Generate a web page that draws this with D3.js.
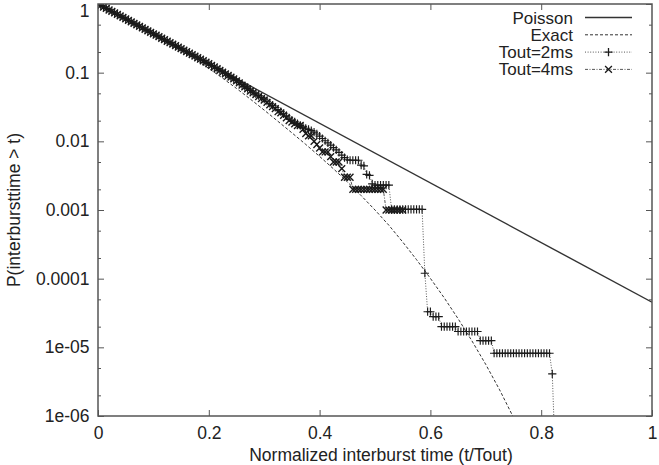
<!DOCTYPE html>
<html>
<head>
<meta charset="utf-8">
<script src="https://cdn.jsdelivr.net/npm/d3@7"></script>
<style>
  html, body { margin: 0; padding: 0; background: #fff; }
  svg { display: block; font-family: "Liberation Sans", Arial, Helvetica, sans-serif; }
</style>
</head>
<body>
<div id="chart"></div>
<script>
// ---- data ----
const xTicks = [0, 0.2, 0.4, 0.6, 0.8, 1]
const xTickLabels = ['0', '0.2', '0.4', '0.6', '0.8', '1']
const yTicks = [1, 0.1, 0.01, 0.001, 0.0001, 0.00001, 0.000001]
const yTickLabels = ['1', '0.1', '0.01', '0.001', '0.0001', '1e-05', '1e-06']
const yMinorTicks = [0.5, 0.2, 0.05, 0.02, 0.005, 0.002, 0.0005, 0.0002, 0.00005, 0.00002, 0.000005, 0.000002]

const legendLabels = ['Poisson', 'Exact', 'Tout=2ms', 'Tout=4ms']

const poissonT = [0, 1]
const poissonP = [1, 0.0000454]

const exactT = [0, 0.025, 0.05, 0.075, 0.1, 0.125, 0.15, 0.175, 0.2, 0.225, 0.25, 0.275, 0.3, 0.325,
  0.35, 0.375, 0.4, 0.425, 0.45, 0.475, 0.5, 0.525, 0.55, 0.575, 0.6, 0.625, 0.65, 0.675, 0.7, 0.725, 0.75]
const exactP = [1, 0.778, 0.604, 0.468, 0.361, 0.277, 0.211, 0.159, 0.115, 0.0832, 0.0589, 0.0412,
  0.0285, 0.0195, 0.0133, 0.00902, 0.00603, 0.00398, 0.00257, 0.00162, 0.001, 0.0006, 0.000342,
  0.000189, 0.000101, 0.0000525, 0.0000261, 0.0000124, 0.00000562, 0.0000024, 0.00000095]

// measured CCDFs, one value per 0.005 bin of normalized time
const binWidth = 0.005

const tout2P = [
  1, 0.951, 0.906, 0.860, 0.820, 0.778, 0.742, 0.704, 0.670, 0.638,
  0.606, 0.577, 0.550, 0.522, 0.496, 0.472, 0.449, 0.427, 0.406, 0.386,
  0.367, 0.350, 0.333, 0.316, 0.301, 0.286, 0.272, 0.259, 0.246, 0.234,
  0.223, 0.212, 0.201, 0.191, 0.182, 0.173, 0.164, 0.156, 0.149, 0.141,
  0.134, 0.127, 0.121, 0.115, 0.109, 0.103, 0.0972, 0.0916, 0.0862, 0.0812,
  0.0765, 0.0716, 0.0670, 0.0627, 0.0586, 0.0549, 0.0518, 0.0489, 0.0462, 0.0436,
  0.0411, 0.0384, 0.0358, 0.0334, 0.0311, 0.0290, 0.0270, 0.0252, 0.0235, 0.0219,
  0.0204, 0.0192, 0.0181, 0.0171, 0.0162, 0.0155, 0.0149, 0.0143, 0.0136, 0.0128,
  0.0119, 0.0110, 0.0102, 0.0095, 0.0088, 0.0081, 0.0075, 0.0069, 0.0063, 0.0058,
  0.0054, 0.0053, 0.0053, 0.0053, 0.0053, 0.0045, 0.0044, 0.0033, 0.0032, 0.0024,
  0.0023, 0.0023, 0.0023, 0.0023, 0.0023, 0.0023, 0.00102, 0.00102, 0.00102, 0.00102,
  0.00102, 0.00102, 0.00102, 0.00102, 0.00102, 0.00102, 0.00102, 0.00102, 0.00012, 0.000033,
  0.000033, 0.000028, 0.000028, 0.000028, 0.00002, 0.00002, 0.00002, 0.00002, 0.00002, 0.00002,
  0.000017, 0.000017, 0.000017, 0.000017, 0.000017, 0.000017, 0.000017, 0.000017, 0.0000125, 0.0000125,
  0.0000125, 0.0000125, 0.0000125, 0.0000082, 0.0000082, 0.0000082, 0.0000082, 0.0000082, 0.0000082, 0.0000082,
  0.0000082, 0.0000082, 0.0000082, 0.0000082, 0.0000082, 0.0000082, 0.0000082, 0.0000082, 0.0000082, 0.0000082,
  0.0000082, 0.0000082, 0.0000082, 0.0000082, 0.0000041, 0.0000003
]

const tout4P = [
  1, 0.952, 0.904, 0.862, 0.818, 0.780, 0.741, 0.706, 0.671, 0.637,
  0.607, 0.578, 0.549, 0.523, 0.497, 0.473, 0.450, 0.428, 0.407, 0.387,
  0.368, 0.351, 0.334, 0.317, 0.302, 0.287, 0.273, 0.260, 0.247, 0.235,
  0.224, 0.213, 0.202, 0.192, 0.183, 0.174, 0.165, 0.157, 0.149, 0.142,
  0.135,
  0.128, 0.121, 0.114, 0.108, 0.102, 0.096, 0.091, 0.086, 0.081, 0.076,
  0.071, 0.066, 0.062, 0.058, 0.054, 0.051, 0.048, 0.045, 0.042, 0.040,
  0.037, 0.034, 0.032, 0.030, 0.027, 0.026, 0.024, 0.022, 0.020, 0.019,
  0.018, 0.017, 0.017, 0.015, 0.013, 0.012, 0.012, 0.010, 0.009, 0.008,
  0.007, 0.007, 0.007, 0.006, 0.005, 0.005, 0.005, 0.004, 0.003, 0.003,
  0.003, 0.002, 0.002, 0.002, 0.002, 0.002, 0.002, 0.002, 0.002, 0.002,
  0.002, 0.002, 0.002, 0.001, 0.001, 0.001, 0.001, 0.001, 0.001, 0.001
]

// ---- layout ----
const width = 659
const height = 465
const margin = { top: 4, right: 7, bottom: 49, left: 98 }
const fontSize = 17.5
const axisColor = '#555'
const inkColor = '#222'

const svg = d3.select('#chart').append('svg')
  .attr('width', width)
  .attr('height', height)

const x = d3.scaleLinear().domain([0, 1]).range([margin.left, width - margin.right])
const y = d3.scaleLog().domain([1e-6, 1]).range([height - margin.bottom, margin.top])

const toPoints = (ts, ps) => ps.map((p, i) => [ts[i], p])
const binPoints = ps => ps.map((p, i) => [i * binWidth, p])

const plusSymbol = d3.symbol().type(d3.symbolPlus || d3.symbolCross).size(24)
const timesSymbol = d3.symbol().type(d3.symbolTimes || d3.symbolCross).size(32)

const series = [
  { label: legendLabels[0], points: toPoints(poissonT, poissonP), dash: null, width: 1.4, color: '#333' },
  { label: legendLabels[1], points: toPoints(exactT, exactP), dash: '3,2', width: 1, color: '#333' },
  { label: legendLabels[2], points: binPoints(tout2P), dash: '1,1.6', width: 0.9, color: '#444', marker: plusSymbol, markerWidth: 1.15 },
  { label: legendLabels[3], points: binPoints(tout4P), dash: '3,1.5,1,1.5', width: 0.9, color: '#444', marker: timesSymbol, markerWidth: 1.4 }
]

svg.append('defs').append('clipPath').attr('id', 'plot-clip')
  .append('rect')
  .attr('x', margin.left)
  .attr('y', margin.top)
  .attr('width', width - margin.left - margin.right)
  .attr('height', height - margin.top - margin.bottom)

// ---- axes ----
const styleAxis = g => {
  g.select('.domain').remove()
  g.selectAll('.tick line').attr('stroke', axisColor).attr('stroke-width', 1)
  g.selectAll('.tick text')
    .attr('fill', inkColor)
    .attr('font-size', fontSize)
    .attr('font-family', '"Liberation Sans", Arial, Helvetica, sans-serif')
}

svg.append('g')
  .attr('transform', `translate(0,${height - margin.bottom})`)
  .call(d3.axisBottom(x).tickValues(xTicks).tickFormat((d, i) => xTickLabels[i]).tickSize(-6).tickPadding(11))
  .call(styleAxis)

svg.append('g')
  .attr('transform', `translate(0,${margin.top})`)
  .call(d3.axisTop(x).tickValues(xTicks.slice(1, -1)).tickFormat('').tickSize(-6))
  .call(styleAxis)

svg.append('g')
  .attr('transform', `translate(${margin.left},0)`)
  .call(d3.axisLeft(y).tickValues(yTicks).tickFormat((d, i) => yTickLabels[i]).tickSize(-6).tickPadding(8.5))
  .call(styleAxis)
  // keep the top label inside the page
  .call(g => g.selectAll('.tick text').filter(d => d === 1).attr('dy', '0.7em'))

svg.append('g')
  .attr('transform', `translate(${margin.left},0)`)
  .call(d3.axisLeft(y).tickValues(yMinorTicks).tickFormat('').tickSize(-3))
  .call(styleAxis)

svg.append('g')
  .attr('transform', `translate(${width - margin.right},0)`)
  .call(d3.axisRight(y).tickValues(yTicks).tickFormat('').tickSize(-6))
  .call(styleAxis)

svg.append('g')
  .attr('transform', `translate(${width - margin.right},0)`)
  .call(d3.axisRight(y).tickValues(yMinorTicks).tickFormat('').tickSize(-3))
  .call(styleAxis)

// ---- series ----
const line = d3.line().x(d => x(d[0])).y(d => y(d[1]))
const plot = svg.append('g').attr('clip-path', 'url(#plot-clip)')

series.forEach(s => {
  plot.append('path')
    .datum(s.points)
    .attr('d', line)
    .attr('fill', 'none')
    .attr('stroke', s.color)
    .attr('stroke-width', s.width)
    .attr('stroke-dasharray', s.dash)

  if (s.marker) {
    plot.append('g')
      .selectAll('path')
      .data(s.points)
      .join('path')
      .attr('transform', d => `translate(${x(d[0])},${y(d[1])})`)
      .attr('d', s.marker)
      .attr('fill', 'none')
      .attr('stroke', '#1a1a1a')
      .attr('stroke-width', s.markerWidth)
  }
})

// ---- frame ----
svg.append('rect')
  .attr('x', margin.left)
  .attr('y', margin.top)
  .attr('width', width - margin.left - margin.right)
  .attr('height', height - margin.top - margin.bottom)
  .attr('fill', 'none')
  .attr('stroke', axisColor)
  .attr('stroke-width', 1.5)

// ---- legend ----
const legend = svg.append('g')
const legendTextX = 573
const sampleX0 = 585
const sampleX1 = 632
series.forEach((s, i) => {
  const rowY = 17.5 + i * 17.3
  legend.append('text')
    .attr('x', legendTextX)
    .attr('y', rowY + 6)
    .attr('text-anchor', 'end')
    .attr('font-size', 17)
    .attr('fill', inkColor)
    .text(s.label)
  legend.append('line')
    .attr('x1', sampleX0)
    .attr('x2', sampleX1)
    .attr('y1', rowY)
    .attr('y2', rowY)
    .attr('stroke', s.color)
    .attr('stroke-width', s.width)
    .attr('stroke-dasharray', s.dash)
  if (s.marker) {
    legend.append('path')
      .attr('transform', `translate(${(sampleX0 + sampleX1) / 2},${rowY})`)
      .attr('d', s.marker)
      .attr('fill', 'none')
      .attr('stroke', '#1a1a1a')
      .attr('stroke-width', 1.3)
  }
})

// ---- axis titles ----
svg.append('text')
  .attr('x', (margin.left + width - margin.right) / 2 + 6)
  .attr('y', 461)
  .attr('text-anchor', 'middle')
  .attr('font-size', fontSize)
  .attr('fill', inkColor)
  .text('Normalized interburst time (t/Tout)')

svg.append('text')
  .attr('transform', `translate(20,${(margin.top + height - margin.bottom) / 2}) rotate(-90)`)
  .attr('text-anchor', 'middle')
  .attr('font-size', fontSize)
  .attr('fill', inkColor)
  .text('P(interbursttime > t)')
</script>
</body>
</html>
